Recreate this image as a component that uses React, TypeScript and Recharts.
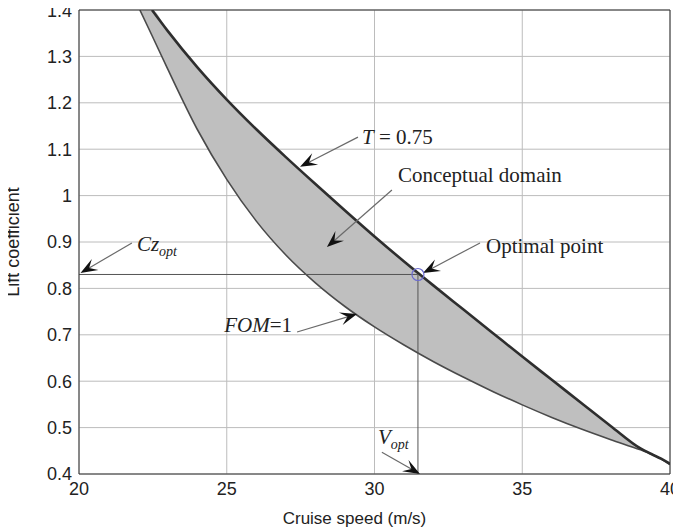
import React from 'react';
import { ComposedChart, Area, Line, XAxis, YAxis, CartesianGrid, ReferenceLine, ReferenceDot } from 'recharts';

// cruise speed (m/s) sampled along the domain boundaries
const speed = [22.06, 22.47, 23, 24, 25, 26, 27, 28, 29, 30, 31, 32, 33, 34, 35, 36, 37, 38, 39, 39.4, 39.7, 40];
// FOM = 1 boundary (lower edge)
const clFom = [1.4, 1.345, 1.273, 1.143, 1.035, 0.945, 0.872, 0.812, 0.761, 0.717, 0.678, 0.642, 0.609, 0.578, 0.549, 0.522, 0.497, 0.474, 0.452, 0.442, 0.432, 0.42];
// T = 0.75 boundary (upper edge)
const clThrust = [null, 1.4, 1.355, 1.277, 1.207, 1.143, 1.083, 1.025, 0.968, 0.912, 0.858, 0.806, 0.755, 0.704, 0.653, 0.603, 0.553, 0.503, 0.455, 0.442, 0.433, 0.422];

const speedTicks = [20, 25, 30, 35, 40];
const clTicks = [0.4, 0.5, 0.6, 0.7, 0.8, 0.9, 1.0, 1.1, 1.2, 1.3, 1.4];

const vOpt = 31.47;
const czOpt = 0.83;

const rows = speed.map((s, i) => ({
  speed: s,
  fom: clFom[i],
  thrust: clThrust[i],
  band: [clFom[i], clThrust[i] ?? 1.4],
}));

const serif = '"Liberation Serif", "Times New Roman", serif';
const sans = '"Liberation Sans", Arial, sans-serif';

// annotation arrows: from (tail) -> to (tip), label placed near the tail
const notes = [
  { id: 't', from: { x: 29.44, y: 1.126 }, to: { x: 27.48, y: 1.062 }, dx: 4, dy: 7, anchor: 'start', label: <tspan fontStyle="italic">T<tspan fontStyle="normal"> = 0.75</tspan></tspan> },
  { id: 'cd', from: { x: 30.59, y: 1.012 }, to: { x: 28.39, y: 0.889 }, dx: 6, dy: -8, anchor: 'start', label: 'Conceptual domain' },
  { id: 'op', from: { x: 33.57, y: 0.898 }, to: { x: 31.64, y: 0.833 }, dx: 6, dy: 10, anchor: 'start', label: 'Optimal point' },
  { id: 'cz', from: { x: 21.79, y: 0.898 }, to: { x: 20.05, y: 0.833 }, dx: 5, dy: 8, anchor: 'start', label: <tspan fontStyle="italic">Cz<tspan fontSize={14} dy={5}>opt</tspan></tspan> },
  { id: 'fom', from: { x: 27.38, y: 0.706 }, to: { x: 29.41, y: 0.745 }, dx: -5, dy: 0, anchor: 'end', label: <tspan fontStyle="italic">FOM<tspan fontStyle="normal">=1</tspan></tspan> },
  { id: 'v', from: { x: 30.25, y: 0.447 }, to: { x: 31.54, y: 0.4 }, dx: -4, dy: -8, anchor: 'start', label: <tspan fontStyle="italic">V<tspan fontSize={14} dy={5}>opt</tspan></tspan> },
];

const arrowShape = (note: any) => (props: any) => {
  const { x1, y1, x2, y2 } = props;
  if (x1 == null || x2 == null) return null;
  const ang = Math.atan2(y2 - y1, x2 - x1);
  const pt = (d: number, w: number) => [x2 - d * Math.cos(ang) - w * Math.sin(ang), y2 - d * Math.sin(ang) + w * Math.cos(ang)];
  const a = pt(17, 6.5);
  const b = pt(10, 0);
  const c = pt(17, -6.5);
  return (
    <g>
      <line x1={x1} y1={y1} x2={b[0]} y2={b[1]} stroke="#6a6a6a" strokeWidth={1.2} />
      <polygon points={`${x2},${y2} ${a[0]},${a[1]} ${b[0]},${b[1]} ${c[0]},${c[1]}`} fill="#111" />
      <text x={x1 + note.dx} y={y1 + note.dy} textAnchor={note.anchor} fontFamily={serif} fontSize={21} fill="#222">
        {note.label}
      </text>
    </g>
  );
};

const fmt = (v: number) => String(+v.toFixed(1));

export default function App() {
  return (
    <div style={{ marginLeft: -8, marginTop: -8, background: '#fff', width: 681, height: 528 }}>
      <ComposedChart width={681} height={528} data={rows} margin={{ top: 10, right: 11, bottom: 0, left: 0 }}>
        <CartesianGrid stroke="#bcbcbc" strokeWidth={1} />
        <XAxis
          type="number"
          dataKey="speed"
          domain={[20, 40]}
          ticks={speedTicks}
          allowDataOverflow
          height={54}
          tickSize={0}
          tickMargin={8}
          stroke="#333"
          tick={{ fill: '#222', fontSize: 18, fontFamily: sans }}
          label={{ value: 'Cruise speed (m/s)', position: 'insideBottom', offset: 4, dx: -20, fill: '#222', fontSize: 17, fontFamily: sans }}
        />
        <YAxis
          type="number"
          domain={[0.4, 1.4]}
          ticks={clTicks}
          allowDataOverflow
          width={79}
          tickSize={0}
          tickMargin={7}
          tickFormatter={fmt}
          stroke="#333"
          tick={{ fill: '#222', fontSize: 18, fontFamily: sans }}
          label={{ value: 'Lift coefficient', angle: -90, position: 'insideLeft', offset: 13, fill: '#222', fontSize: 18, fontFamily: sans, style: { textAnchor: 'middle' } }}
        />
        <Area type="monotone" dataKey="band" fill="#bfbfbf" fillOpacity={1} stroke="none" isAnimationActive={false} />
        <Line type="monotone" dataKey="fom" stroke="#4a4a4a" strokeWidth={1.6} dot={false} isAnimationActive={false} />
        <Line type="monotone" dataKey="thrust" stroke="#2e2e2e" strokeWidth={2.6} dot={false} isAnimationActive={false} />
        <ReferenceLine x={40} stroke="#333" />
        <ReferenceLine y={1.4} stroke="#333" />
        <ReferenceLine segment={[{ x: 20, y: czOpt }, { x: vOpt, y: czOpt }]} stroke="#555" strokeWidth={1} ifOverflow="visible" />
        <ReferenceLine segment={[{ x: vOpt, y: czOpt }, { x: vOpt, y: 0.4 }]} stroke="#555" strokeWidth={1} ifOverflow="visible" />
        <ReferenceDot x={vOpt} y={czOpt} r={6} fill="none" stroke="#6b6bd0" strokeWidth={1.2} ifOverflow="visible" />
        {notes.map((n) => (
          <ReferenceLine key={n.id} segment={[n.from, n.to]} ifOverflow="visible" shape={arrowShape(n)} />
        ))}
      </ComposedChart>
    </div>
  );
}
